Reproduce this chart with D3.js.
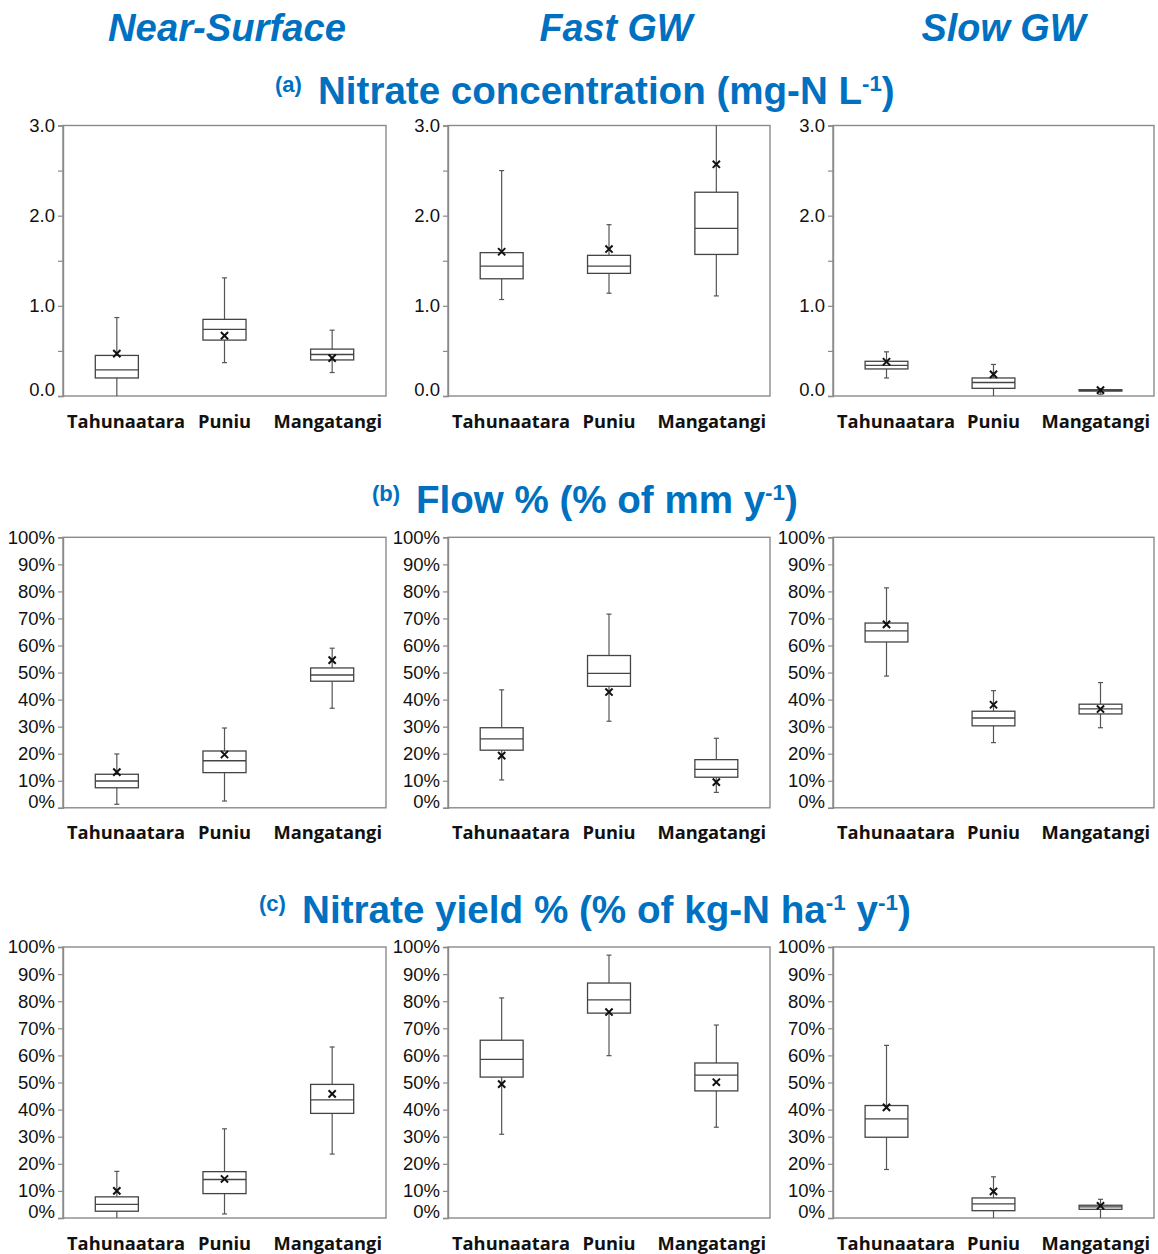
<!DOCTYPE html>
<html><head><meta charset="utf-8">
<script src="https://cdn.jsdelivr.net/npm/d3@7"></script>
<style>body{margin:0;background:#fff}svg{display:block}</style>
</head><body>
<svg id="chart" width="1158" height="1254"></svg>
<script>
// ---------------- DATA ----------------
const categories = ["Tahunaatara", "Puniu", "Mangatangi"];
const columnTitles = ["Near-Surface", "Fast GW", "Slow GW"];
const concTicks = [0, 0.5, 1.0, 1.5, 2.0, 2.5, 3.0];
const concTickLabels = ["0.0", "", "1.0", "", "2.0", "", "3.0"];
const pctTicks = [0, 0.1, 0.2, 0.3, 0.4, 0.5, 0.6, 0.7, 0.8, 0.9, 1.0];
const pctTickLabels = ["0%", "10%", "20%", "30%", "40%", "50%", "60%", "70%", "80%", "90%", "100%"];

// box stats per category: [whiskerLow, q1, median, q3, whiskerHigh]
// (a) Nitrate concentration (mg-N/L)
const concNearSurface = [[0.00, 0.20, 0.29, 0.45, 0.87], [0.37, 0.62, 0.74, 0.85, 1.31], [0.26, 0.40, 0.46, 0.52, 0.73]];
const concNearSurfaceMean = [0.47, 0.67, 0.42];
const concFastGW = [[1.07, 1.30, 1.44, 1.59, 2.50], [1.14, 1.36, 1.44, 1.56, 1.90], [1.11, 1.57, 1.86, 2.26, 3.00]];
const concFastGWMean = [1.60, 1.63, 2.57];
const concSlowGW = [[0.20, 0.30, 0.34, 0.385, 0.49], [0.00, 0.085, 0.15, 0.20, 0.35], [0.02, 0.055, 0.06, 0.07, 0.08]];
const concSlowGWMean = [0.38, 0.24, 0.065];
// (b) Flow %
const flowNearSurface = [[0.013, 0.074, 0.099, 0.124, 0.199], [0.025, 0.130, 0.174, 0.210, 0.295], [0.368, 0.468, 0.491, 0.517, 0.590]];
const flowNearSurfaceMean = [0.132, 0.197, 0.546];
const flowFastGW = [[0.103, 0.213, 0.255, 0.296, 0.436], [0.320, 0.449, 0.497, 0.563, 0.716], [0.057, 0.113, 0.142, 0.178, 0.257]];
const flowFastGWMean = [0.193, 0.428, 0.095];
const flowSlowGW = [[0.487, 0.613, 0.654, 0.683, 0.813], [0.241, 0.303, 0.332, 0.357, 0.433], [0.296, 0.347, 0.366, 0.383, 0.463]];
const flowSlowGWMean = [0.678, 0.381, 0.365];
// (c) Nitrate yield %
const yieldNearSurface = [[0.000, 0.025, 0.050, 0.078, 0.172], [0.015, 0.090, 0.142, 0.171, 0.329], [0.236, 0.386, 0.436, 0.493, 0.631]];
const yieldNearSurfaceMean = [0.100, 0.144, 0.458];
const yieldFastGW = [[0.309, 0.520, 0.585, 0.656, 0.812], [0.599, 0.756, 0.805, 0.867, 0.970], [0.335, 0.469, 0.527, 0.572, 0.712]];
const yieldFastGWMean = [0.494, 0.760, 0.501];
const yieldSlowGW = [[0.179, 0.298, 0.366, 0.415, 0.637], [0.000, 0.027, 0.052, 0.074, 0.152], [0.000, 0.032, 0.041, 0.047, 0.069]];
const yieldSlowGWMean = [0.408, 0.098, 0.045];

const sectionLabels = ["(a)", "(b)", "(c)"];
const sectionTitles = [
  [["Nitrate concentration (mg-N L", false], ["-1", true], [")", false]],
  [["Flow % (% of mm y", false], ["-1", true], [")", false]],
  [["Nitrate yield % (% of kg-N ha", false], ["-1", true], [" y", false], ["-1", true], [")", false]]
];

// ---------------- LAYOUT ----------------
const BLUE = "#0070C0";
const svg = d3.select("#chart");
const colX = [[63, 386], [448, 770], [833, 1154]];
const rows = [
  { y0: 396, yTop: 125.5, frameTop: 125.5, max: 3, ticks: concTicks, labels: concTickLabels, catY: 428,
    stats: [concNearSurface, concFastGW, concSlowGW], means: [concNearSurfaceMean, concFastGWMean, concSlowGWMean],
    titleBase: 104, titleX: [318, 895], secX: 275 },
  { y0: 807.8, yTop: 537.3, frameTop: 537.3, max: 1, ticks: pctTicks, labels: pctTickLabels, catY: 839,
    stats: [flowNearSurface, flowFastGW, flowSlowGW], means: [flowNearSurfaceMean, flowFastGWMean, flowSlowGWMean],
    titleBase: 513, titleX: [416, 798], secX: 372 },
  { y0: 1218, yTop: 947, frameTop: 947, max: 1, ticks: pctTicks, labels: pctTickLabels, catY: 1250,
    stats: [yieldNearSurface, yieldFastGW, yieldSlowGW], means: [yieldNearSurfaceMean, yieldFastGWMean, yieldSlowGWMean],
    titleBase: 923, titleX: [302, 911], secX: 259 }
];

function fitWidth(sel, x0, target) {
  const w = sel.node().getBBox().width;
  const s = target / w;
  sel.attr("transform", `translate(${x0},0) scale(${s},1) translate(${-x0},0)`);
}

// column headers
const headerCenters = [227, 616, 1003.5];
const headerWidths = [238, 156, 167];
columnTitles.forEach((t, i) => {
  const tx = svg.append("text")
    .attr("x", headerCenters[i]).attr("y", 41)
    .attr("text-anchor", "middle")
    .attr("font-family", "Liberation Sans, Arial, sans-serif")
    .attr("font-weight", "bold").attr("font-style", "italic")
    .attr("font-size", 38).attr("fill", BLUE).text(t);
  const w = tx.node().getBBox().width;
  const s = headerWidths[i] / w;
  tx.attr("transform", `translate(${headerCenters[i]},0) scale(${s},1) translate(${-headerCenters[i]},0)`);
});

rows.forEach((r, ri) => {
  // section title
  svg.append("text")
    .attr("x", r.secX).attr("y", r.titleBase - 12)
    .attr("font-family", "Liberation Sans, Arial, sans-serif")
    .attr("font-weight", "bold").attr("font-size", 22).attr("fill", BLUE)
    .text(sectionLabels[ri]);
  const tt = svg.append("text")
    .attr("x", r.titleX[0]).attr("y", r.titleBase)
    .attr("font-family", "Liberation Sans, Arial, sans-serif")
    .attr("font-weight", "bold").attr("font-size", 38).attr("fill", BLUE);
  sectionTitles[ri].forEach(([txt, sup]) => {
    tt.append("tspan")
      .attr("font-size", sup ? 22 : 38)
      .attr("baseline-shift", sup ? "13" : null)
      .text(txt);
  });
  fitWidth(tt, r.titleX[0], r.titleX[1] - r.titleX[0]);

  colX.forEach((cx, ci) => {
    const y = d3.scaleLinear().domain([0, r.max]).range([r.y0, r.yTop]);
    const x = d3.scaleBand().domain(categories).range(cx);
    const g = svg.append("g");

    // frame
    g.append("rect")
      .attr("x", cx[0]).attr("y", r.frameTop)
      .attr("width", cx[1] - cx[0]).attr("height", r.y0 - r.frameTop)
      .attr("fill", "none").attr("stroke", "#8a8a8a").attr("stroke-width", 1.4);

    // y axis
    const ax = d3.axisLeft(y).tickValues(r.ticks).tickSize(5).tickPadding(3)
      .tickFormat((d, i) => r.labels[i]);
    const axg = g.append("g").attr("transform", `translate(${cx[0]},0)`).call(ax);
    axg.select(".domain").attr("stroke", "#8a8a8a").attr("stroke-width", 1.4);
    axg.selectAll(".tick line").attr("stroke", "#8a8a8a").attr("stroke-width", 1.2);
    axg.selectAll(".tick text")
      .attr("font-family", "Liberation Sans, Arial, sans-serif")
      .attr("font-size", 18.5).attr("fill", "#111")
      .attr("dy", (d) => d === 0 ? "-0.02em" : "0.32em");

    const stats = r.stats[ci], means = r.means[ci];
    const bw = x.bandwidth() * 0.4;
    categories.forEach((c, k) => {
      const [lo, q1, md, q3, hi] = stats[k];
      const xc = x(c) + x.bandwidth() / 2;
      // whiskers
      g.append("line").attr("x1", xc).attr("x2", xc).attr("y1", y(hi)).attr("y2", y(q3))
        .attr("stroke", "#555").attr("stroke-width", 1.2);
      g.append("line").attr("x1", xc).attr("x2", xc).attr("y1", y(q1)).attr("y2", y(lo))
        .attr("stroke", "#555").attr("stroke-width", 1.2);
      [hi, lo].forEach(v => {
        if (v > 0 && v < r.max) {
          g.append("line").attr("x1", xc - 2.5).attr("x2", xc + 2.5).attr("y1", y(v)).attr("y2", y(v))
            .attr("stroke", "#555").attr("stroke-width", 1.2);
        }
      });
      // box
      g.append("rect").attr("x", xc - bw / 2).attr("width", bw)
        .attr("y", y(q3)).attr("height", Math.max(y(q1) - y(q3), 1))
        .attr("fill", "#fff").attr("stroke", "#444").attr("stroke-width", 1.3);
      g.append("line").attr("x1", xc - bw / 2).attr("x2", xc + bw / 2).attr("y1", y(md)).attr("y2", y(md))
        .attr("stroke", "#444").attr("stroke-width", 1.3);
      // mean marker
      const my = y(means[k]), s = 3.6;
      g.append("path")
        .attr("d", `M${xc - s},${my - s}L${xc + s},${my + s}M${xc - s},${my + s}L${xc + s},${my - s}`)
        .attr("stroke", "#111").attr("stroke-width", 2).attr("fill", "none");
    });

    // category labels, kept inside the frame
    categories.forEach((c) => {
      const xc = x(c) + x.bandwidth() / 2;
      const t = g.append("text").attr("x", xc).attr("y", r.catY)
        .attr("text-anchor", "middle")
        .attr("font-family", "Open Sans, sans-serif").attr("font-weight", "bold")
        .attr("font-size", 18.3).attr("fill", "#111").text(c);
      const bb = t.node().getBBox();
      if (bb.x < cx[0] + 4) t.attr("x", xc + (cx[0] + 4 - bb.x));
      if (bb.x + bb.width > cx[1] - 4) t.attr("x", xc - (bb.x + bb.width - (cx[1] - 4)));
    });
  });
});
</script>
</body></html>
